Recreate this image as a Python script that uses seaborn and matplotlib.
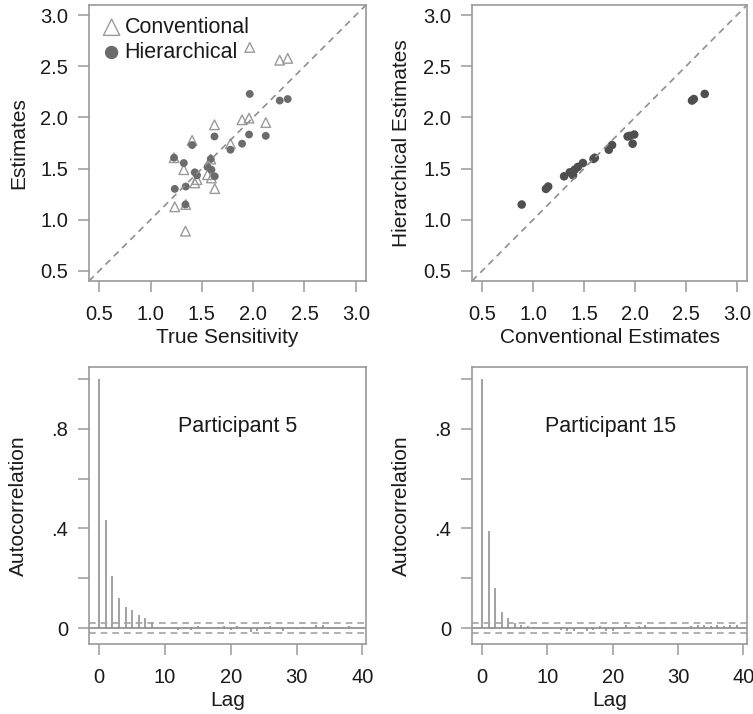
import numpy as np
import pandas as pd
import seaborn as sns
import matplotlib.pyplot as plt

# participant-level values (20 participants)
true_sens = [1.967, 2.259, 2.337, 1.623, 1.960, 2.123, 1.892, 1.405, 1.779, 1.229,
             1.324, 1.587, 1.555, 1.431, 1.593, 1.626, 1.453, 1.236, 1.343, 1.340]
conv_est = [2.685, 2.560, 2.578, 1.928, 1.993, 1.950, 1.977, 1.775, 1.743, 1.606,
            1.489, 1.593, 1.440, 1.360, 1.408, 1.304, 1.392, 1.126, 1.148, 0.888]
hier_est = [2.230, 2.165, 2.180, 1.814, 1.833, 1.820, 1.743, 1.730, 1.684, 1.606,
            1.554, 1.594, 1.516, 1.463, 1.489, 1.424, 1.434, 1.301, 1.324, 1.148]

lags = list(range(40))
acf_p5 = [1.0, 0.434, 0.210, 0.122, 0.083, 0.072, 0.052, 0.039, 0.023, 0.006,
          -0.004, 0.003, -0.006, 0.005, -0.008, 0.009, -0.005, 0.002, 0.004, 0.009,
          -0.006, 0.008, 0.004, -0.014, -0.010, 0.003, 0.007, -0.004, -0.012, 0.006,
          -0.003, 0.005, 0.003, 0.012, 0.013, 0.006, -0.002, 0.004, 0.007, 0.002]
acf_p15 = [1.0, 0.390, 0.162, 0.066, 0.040, 0.022, 0.012, 0.008, 0.004, 0.006,
           -0.003, 0.002, -0.008, -0.012, -0.010, 0.006, -0.013, -0.009, 0.007, -0.011,
           -0.012, 0.006, 0.011, 0.004, 0.009, 0.012, 0.005, 0.003, 0.004, 0.002,
           0.006, 0.004, 0.008, 0.011, 0.013, 0.010, 0.012, 0.009, 0.014, 0.011]
conf_lim = 0.0196

sns.set_style("white")
plt.rcParams['font.family'] = ['Liberation Sans', 'DejaVu Sans']

BOX = '#9a9a9a'
TXT = '#1a1a1a'

fig = plt.figure(figsize=(7.53, 7.14), dpi=100)
W, H = 753.0, 714.0

def make_ax(x0, x1, y0, y1):
    return fig.add_axes([x0 / W, 1 - y1 / H, (x1 - x0) / W, (y1 - y0) / H])

def style(ax, left_px):
    for s in ax.spines.values():
        s.set_color(BOX)
        s.set_linewidth(1.2)
    ax.tick_params(axis='both', direction='out', length=8, width=1.1, color=BOX,
                   labelsize=14.5, labelcolor=TXT, left=True, bottom=True)
    ax.tick_params(axis='x', pad=9)
    ax.tick_params(axis='y', pad=7)
    # y label sits at a fixed distance, like R's margin lines
    ax.yaxis.set_label_coords(-left_px / ax.bbox.width, 0.5)

sens_ticks = [0.5, 1.0, 1.5, 2.0, 2.5, 3.0]

# ---- top left
ax1 = make_ax(89, 366, 5, 281)
df = pd.DataFrame({'true': true_sens, 'conv': conv_est, 'hier': hier_est})
sns.lineplot(x=[0.4, 3.1], y=[0.4, 3.1], ax=ax1, color='#8f8f8f', linestyle=(0, (4, 3)),
             linewidth=1.2)
sns.scatterplot(data=df, x='true', y='conv', ax=ax1, marker='^', s=48,
                facecolor='none', edgecolor='#9a9a9a', linewidth=1.0, label='Conventional')
sns.scatterplot(data=df, x='true', y='hier', ax=ax1, marker='o', s=32,
                color='#6b6b6b', edgecolor='none', label='Hierarchical')
ax1.set_xlim(0.4, 3.1)
ax1.set_ylim(0.4, 3.1)
ax1.set_xticks(sens_ticks)
ax1.set_yticks(sens_ticks)
ax1.set_xlabel('True Sensitivity', fontsize=15, color=TXT, labelpad=3)
ax1.set_ylabel('Estimates', fontsize=15, color=TXT)
leg = ax1.legend(loc='upper left', frameon=False, fontsize=15.5, markerscale=1.7,
                 handletextpad=0.1, borderaxespad=0.35, labelspacing=0.2,
                 handlelength=1.0, borderpad=0.2)
for t in leg.get_texts():
    t.set_color(TXT)
style(ax1, 61)

# ---- top right
ax2 = make_ax(472, 747, 5, 281)
sns.lineplot(x=[0.4, 3.1], y=[0.4, 3.1], ax=ax2, color='#8f8f8f', linestyle=(0, (4, 3)),
             linewidth=1.2)
sns.scatterplot(data=df, x='conv', y='hier', ax=ax2, marker='o', s=38,
                color='#4f4f4f', edgecolor='none')
ax2.set_xlim(0.4, 3.1)
ax2.set_ylim(0.4, 3.1)
ax2.set_xticks(sens_ticks)
ax2.set_yticks(sens_ticks)
ax2.set_xlabel('Conventional Estimates', fontsize=15, color=TXT, labelpad=3)
ax2.set_ylabel('Hierarchical Estimates', fontsize=15, color=TXT)
style(ax2, 61)

# ---- bottom: autocorrelation
def acf_panel(ax, acf, title, tx):
    ax.vlines(lags, 0, acf, color='#929292', linewidth=1.2)
    ax.axhline(0, color='#8a8a8a', linewidth=1.2)
    for c in (conf_lim, -conf_lim):
        ax.axhline(c, color='#a3a3a3', linewidth=1.2, linestyle=(0, (4, 3)))
    ax.set_xlim(-1.56, 40.56)
    ax.set_ylim(-0.064, 1.048)
    ax.set_xticks([0, 10, 20, 30, 40])
    ax.set_yticks([0, 0.2, 0.4, 0.6, 0.8, 1.0])
    ax.set_yticklabels(['0', '', '.4', '', '.8', ''])
    ax.set_xlabel('Lag', fontsize=15, color=TXT, labelpad=3)
    ax.set_ylabel('Autocorrelation', fontsize=15, color=TXT)
    ax.text(tx, 0.784, title, transform=ax.transAxes, ha='center', va='center',
            fontsize=15.5, color=TXT)
    style(ax, 61)

ax3 = make_ax(89, 366, 367, 644)
acf_panel(ax3, acf_p5, 'Participant 5', 0.538)
ax4 = make_ax(472, 747, 367, 644)
acf_panel(ax4, acf_p15, 'Participant 15', 0.505)

fig.savefig('out.png', dpi=100)
